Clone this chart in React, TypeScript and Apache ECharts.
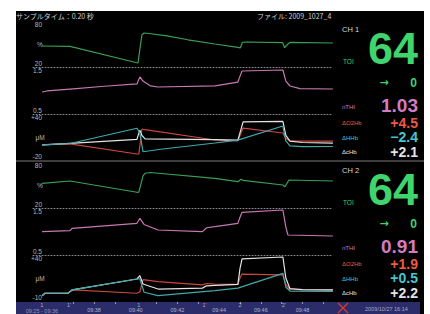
import React, { useEffect, useRef } from 'react';
import * as echarts from 'echarts';

// ---------- data (time in minutes past 09:00) ----------
const ch1TOI: number[][] = [[35.51,47.4],[36.85,46.8],[40.06,25.5],[40.11,25.2],[40.21,45],[40.3,62],[40.4,64.3],[40.55,64.0],[41.5,60.5],[42.5,55.5],[43.8,50.0],[44.9,45.5],[45.02,45.0],[45.12,52.3],[45.3,52.6],[47.05,51.8],[47.14,45.2],[47.3,50],[47.4,52.0],[49.46,51.3]];
const ch1nTHI: number[][] = [[35.51,0.968],[35.75,0.99],[36.85,1.03],[38.5,1.09],[40.06,1.14],[40.2,1.29],[40.35,1.2],[40.7,1.1],[41.07,1.074],[43.8,1.1],[44.9,1.18],[45.0,1.3],[45.1,1.415],[47.06,1.436],[47.2,1.2],[47.4,1.096],[47.88,1.04],[49.46,1.032]];
const ch1O2Hb: number[][] = [[35.51,-0.4],[36.85,1.0],[40.06,-12.2],[40.15,-12],[40.3,20.4],[40.45,19.5],[43.8,6.1],[44.9,5.0],[45.05,15],[45.15,21.7],[47.06,15.2],[47.2,8],[47.4,5],[48,4.5],[49.46,4.5]];
const ch1cHb: number[][] = [[35.51,-0.4],[36.85,1.8],[40.06,7.0],[40.2,19],[40.3,12],[40.45,7.5],[43.8,6.5],[44.9,6.0],[45.05,20],[45.15,29.6],[47.06,30.5],[47.2,12],[47.4,4.5],[48,2.8],[49.46,2.1]];
const ch1HHb: number[][] = [[35.51,-0.4],[36.85,1.5],[40.06,21.4],[40.2,15],[40.35,-9.2],[41.2,-6],[43.8,2.2],[44.9,6],[47.06,24.3],[47.2,5],[47.4,-1.5],[48,-2.5],[49.46,-2.4]];

const ch2TOI: number[][] = [[35.51,52.2],[36.85,55.2],[40.06,40.5],[40.15,40.8],[40.35,62],[40.45,65.3],[40.69,66.3],[43.8,58.7],[44.9,54.3],[45.05,57.5],[45.15,56],[47.06,50],[47.16,47.8],[47.35,56.5],[49.46,55.2]];
const ch2nTHI: number[][] = [[35.51,0.996],[36.85,1.017],[36.95,1.068],[40.06,1.174],[40.2,1.281],[40.4,1.15],[41.07,1.032],[43.2,0.996],[43.4,1.08],[43.8,1.102],[44.9,1.174],[45.0,1.3],[45.1,1.409],[47.06,1.457],[47.2,1.1],[47.3,0.926],[49.46,0.904]];
const ch2O2Hb: number[][] = [[35.51,-4.2],[35.65,-1.6],[36.75,-1.6],[36.95,2.0],[40.06,-1.6],[40.2,0],[40.35,13.2],[41.07,11],[43.2,7.5],[43.4,9.0],[43.8,8.5],[44.9,8.0],[45.0,15],[45.1,19.3],[47.06,18.3],[47.2,8],[47.4,2.5],[48,2.0],[49.46,1.9]];
const ch2cHb: number[][] = [[35.51,-4.2],[35.65,-1.6],[36.75,-1.6],[36.95,2.0],[40.06,13.9],[40.2,17.5],[40.35,8.5],[41.07,3.0],[43.2,4.0],[43.4,6.5],[43.8,7.0],[44.9,8.0],[45.0,25],[45.1,35.7],[47.06,37.8],[47.2,15],[47.4,3.4],[48,2.4],[49.46,2.2]];
const ch2HHb: number[][] = [[35.51,-4.2],[35.65,-1.6],[36.75,-1.6],[36.95,2.0],[40.06,13.9],[40.2,14],[40.4,-0.5],[41.07,-4.2],[43.8,1.2],[44.9,4.0],[47.06,20.1],[47.2,5],[47.4,0.8],[49.46,0.5]];

// y-axis tick labels per panel [min, max]
const yRanges: number[][] = [[20, 80], [0.5, 1.5], [-20, 40], [20, 80], [0.5, 1.5], [-10, 40]];
const yUnits = ['%', '', 'μM', '%', '', 'μM'];

// time axis
const timeLabelValues = [38, 40, 42, 44, 46, 48];
const timeTickValues = [37, 38, 39, 41, 42, 43, 45, 46, 47, 48, 49];
const eventTimes = [35.5, 36.8, 40.15, 43.3, 45.0, 47.1];
const eventNames = ['1', "1'", '1', "1'", '2', "2'"];

// right-hand readouts
const channels = ['CH 1', 'CH 2'];
const toiNow = [64, 64];
const toiTrend = [0, 0];
const nthiNow = [1.03, 0.91];
const o2hbNow = [4.5, 1.9];
const hhbNow = [-2.4, 0.5];
const chbNow = [2.1, 2.2];

const headerLeft = 'サンプルタイム：0.20 秒';
const headerRight = 'ファイル: 2009_1027_4';
const footerDate = '2009/10/27 16:14';
const startLabel = '09:25 - 09:36';

// ---------- layout ----------
const PX_PER_MIN = 20.85;
const X0_MIN = 36, X0_PX = 52.3;
const PLOT_L = 33, PLOT_W = 300;
const panels = [
  { top: 21, h: 46 }, { top: 67, h: 47 }, { top: 114, h: 46 },
  { top: 162, h: 46 }, { top: 208, h: 47 }, { top: 255, h: 46 },
];
const C = {
  green: '#3a9e56', greenTxt: '#3fd46c', pink: '#c877b4', pinkTxt: '#d47cc2',
  red: '#c9473c', redTxt: '#ee5a45', cyan: '#3fa9ac', cyanTxt: '#45c6cf', white: '#e4e4e4',
};
const FONT = 'Liberation Sans, Arial, sans-serif';
const JP = 'Noto Sans CJK JP, sans-serif';

const pxToMin = (px: number) => X0_MIN + (px - X0_PX) / PX_PER_MIN;
const fmtTime = (m: number) => `09:${String(m).padStart(2, '0')}`;
const signed = (v: number) => (v > 0 ? '+' : v < 0 ? '−' : '') + Math.abs(v).toFixed(1);
const fmtY = (v: number, i: number) => {
  if (i % 3 === 2) return v > 0 ? '+' + v : String(v);
  return String(v);
};

function buildOption() {
  const xMin = pxToMin(PLOT_L), xMax = pxToMin(PLOT_L + PLOT_W);
  const grid: any[] = panels.map((p) => ({ left: PLOT_L, width: PLOT_W, top: p.top, height: p.h }));
  grid.push({ left: 16, width: 404, top: 302, height: 12, show: true, backgroundColor: '#2b2d6b', borderWidth: 0 });

  const xAxis: any[] = panels.map((p, i) => ({
    type: 'value', gridIndex: i, min: xMin, max: xMax, position: 'bottom',
    axisLine: { show: i % 3 !== 2, onZero: false, lineStyle: { color: '#8a8a8a', type: [1, 2], width: 1 } },
    axisTick: { show: false }, axisLabel: { show: false }, splitLine: { show: false },
  }));
  const tMin = pxToMin(16), tMax = pxToMin(420);
  xAxis.push({
    type: 'value', gridIndex: 6, min: tMin, max: tMax, position: 'bottom',
    axisLine: { show: false }, axisTick: { show: false }, splitLine: { show: false },
    axisLabel: { inside: true, customValues: timeLabelValues, formatter: (v: number) => fmtTime(v), color: '#b0b0c8', fontSize: 5.5, fontFamily: FONT, margin: 1 },
  });
  xAxis.push({
    type: 'value', gridIndex: 6, min: tMin, max: tMax, position: 'top',
    axisLine: { show: false }, splitLine: { show: false }, axisLabel: { show: false },
    axisTick: { show: true, inside: true, length: 2, customValues: timeTickValues, lineStyle: { color: '#9a9ab8', width: 1 } },
  });

  const yAxis: any[] = yRanges.map((r, i) => ({
    type: 'value', gridIndex: i, min: r[0], max: r[1], interval: r[1] - r[0],
    axisLine: { show: false }, axisTick: { show: false }, splitLine: { show: false },
    axisLabel: {
      show: true, showMinLabel: true, showMaxLabel: true, margin: -9,
      verticalAlignMinLabel: 'bottom', verticalAlignMaxLabel: 'top',
      color: '#b8b8b8', fontSize: 6.5, fontFamily: FONT,
      formatter: (v: number) => fmtY(v, i),
    },
  }));
  yAxis.push({ type: 'value', gridIndex: 6, min: 0, max: 1, show: false });

  const line = (data: number[][], idx: number, color: string, z = 2) => ({
    type: 'line', xAxisIndex: idx, yAxisIndex: idx, data, showSymbol: false, symbol: 'none',
    lineStyle: { color, width: 1.2 }, z, silent: true,
  });
  const series: any[] = [
    line(ch1TOI, 0, C.green), line(ch1nTHI, 1, C.pink),
    line(ch1O2Hb, 2, C.red), line(ch1cHb, 2, C.white), line(ch1HHb, 2, C.cyan),
    line(ch2TOI, 3, C.green), line(ch2nTHI, 4, C.pink),
    line(ch2O2Hb, 5, C.red), line(ch2cHb, 5, C.white), line(ch2HHb, 5, C.cyan),
    {
      type: 'scatter', xAxisIndex: 6, yAxisIndex: 6, symbolSize: 0, silent: true,
      data: eventTimes.map((t, i) => ({ value: [t, 0.72], name: eventNames[i] })),
      label: { show: true, position: 'inside', formatter: (p: any) => p.name, color: '#d0d0e0', fontSize: 5.5, fontFamily: FONT },
    },
    {
      type: 'scatter', xAxisIndex: 6, yAxisIndex: 6, symbolSize: 0, silent: true,
      data: [{ value: [35.5, 0.25], name: startLabel }],
      label: { show: true, position: 'inside', formatter: (p: any) => p.name, color: '#b0b0c8', fontSize: 5.5, fontFamily: FONT },
    },
  ];

  const txt = (x: number, y: number, text: string, fill: string, size: number, align = 'left', family = FONT, weight: any = 'normal') => ({
    type: 'text', x, y, silent: true,
    style: { text, fill, fontSize: size, fontFamily: family, fontWeight: weight, align, verticalAlign: 'middle' },
  });
  const graphic: any[] = [
    txt(16, 15.5, headerLeft, '#cfcfcf', 7, 'left', JP),
    txt(257, 15.5, headerRight, '#cfcfcf', 7, 'left', JP),
    { type: 'line', silent: true, shape: { x1: 16, y1: 161, x2: 424, y2: 161 }, style: { stroke: '#7a7a7a', lineWidth: 1 } },
    { type: 'line', silent: true, shape: { x1: 338, y1: 303, x2: 348, y2: 313 }, style: { stroke: '#e03a2a', lineWidth: 1.3 } },
    { type: 'line', silent: true, shape: { x1: 348, y1: 303, x2: 338, y2: 313 }, style: { stroke: '#e03a2a', lineWidth: 1.3 } },
    txt(365, 308.5, footerDate, '#a8a8c0', 5.5),
  ];
  panels.forEach((p, i) => {
    if (yUnits[i]) graphic.push(txt(40, p.top + p.h / 2, yUnits[i], '#b8b8b8', 6.5, 'center'));
  });
  channels.forEach((ch, c) => {
    const dy = c * 141;
    graphic.push(
      txt(342, 29 + dy, ch, '#d8d8d8', 7.5),
      txt(418, 48 + dy, String(toiNow[c]), C.greenTxt, 45, 'right', FONT, 'bold'),
      txt(343, 61 + dy, 'TOI', C.greenTxt, 6.5),
      txt(384, 82 + dy, '→', C.greenTxt, 11, 'center', 'DejaVu Sans, sans-serif', 'bold'),
      txt(417, 82.5 + dy, String(toiTrend[c]), C.greenTxt, 12, 'right', FONT, 'bold'),
      txt(342, 107 + dy, 'nTHI', C.pinkTxt, 6),
      txt(418, 105 + dy, nthiNow[c].toFixed(2), C.pinkTxt, 19, 'right', FONT, 'bold'),
      txt(342, 123 + dy, 'ΔO2Hb', C.redTxt, 6),
      txt(418, 122.5 + dy, signed(o2hbNow[c]), C.redTxt, 14, 'right', FONT, 'bold'),
      txt(342, 137.5 + dy, 'ΔHHb', C.cyanTxt, 6),
      txt(418, 137 + dy, signed(hhbNow[c]), C.cyanTxt, 14, 'right', FONT, 'bold'),
      txt(342, 151.5 + dy, 'ΔcHb', C.white, 6),
      txt(418, 151.5 + dy, signed(chbNow[c]), C.white, 14, 'right', FONT, 'bold'),
    );
  });

  return { animation: false, backgroundColor: 'transparent', grid, xAxis, yAxis, series, graphic };
}

export default function App() {
  const ref = useRef<HTMLDivElement>(null);
  useEffect(() => {
    if (!ref.current) return;
    const chart = echarts.init(ref.current, undefined, { renderer: 'svg' });
    chart.setOption(buildOption() as any);
    return () => chart.dispose();
  }, []);
  return (
    <div style={{ position: 'fixed', left: 0, top: 0, width: 430, height: 314, background: '#fff', overflow: 'hidden' }}>
      <div style={{ position: 'absolute', left: 16, top: 11, width: 408, height: 303, background: '#000' }} />
      <div ref={ref} style={{ position: 'absolute', left: 0, top: 0, width: 430, height: 314 }} />
    </div>
  );
}
